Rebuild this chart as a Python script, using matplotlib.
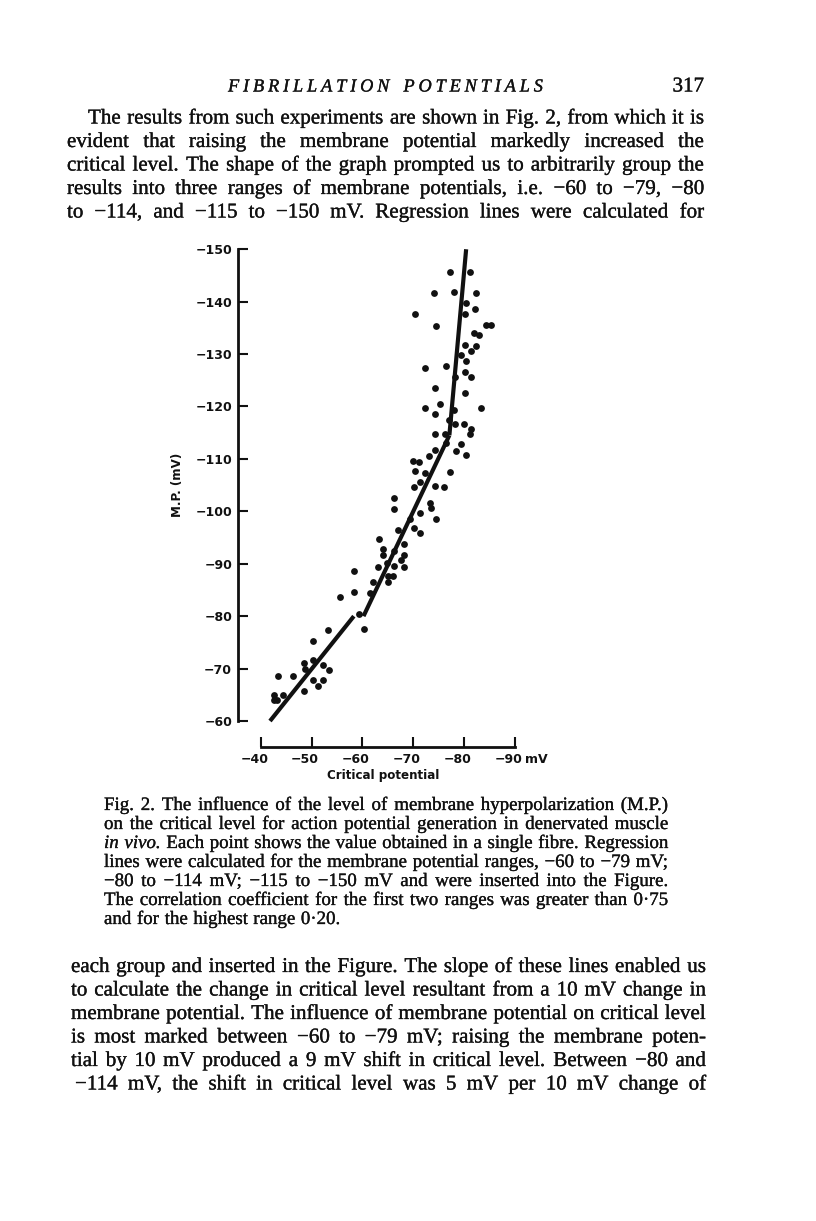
import matplotlib
matplotlib.use("Agg")
import matplotlib.pyplot as plt
import matplotlib.patheffects as pe
from matplotlib.transforms import ScaledTranslation

W, H = 816, 1221
INK = "#111111"

# ---------------- data ----------------
crit = [-77.2, -81.2, -74.1, -78.1, -82.3, -80.4, -82.1, -80.2, -70.3, -74.4, -84.3, -85.2,
        -82.0, -83.0, -80.1, -82.3, -81.3, -79.3, -80.4, -72.3, -76.4, -80.2, -78.3, -81.3,
        -74.3, -80.2, -72.3, -75.3, -83.3, -78.1, -74.3, -77.1, -78.2, -80.0, -81.3, -81.2,
        -74.3, -76.3, -76.4, -79.3, -74.3, -78.4, -73.1, -80.4, -70.0, -71.2, -70.3, -72.4,
        -77.2, -71.3, -70.2, -74.3, -76.1,
        -66.3, -66.3, -73.2, -73.4, -71.3, -69.4, -74.4, -70.1, -71.3, -66.9, -63.3, -68.2,
        -64.1, -66.3, -64.1, -68.2, -67.6, -63.1, -64.8, -66.2, -68.2, -58.3, -65.0, -66.1,
        -62.1, -65.0, -58.3, -61.5, -55.6,
        -59.4, -60.3, -53.3, -50.3, -48.4, -50.3, -52.3, -53.5, -48.6, -43.3, -46.4, -50.3,
        -52.3, -51.3, -48.4, -42.5, -44.4, -42.5, -43.1]
mp = [-145.6, -145.7, -141.7, -141.8, -141.6, -139.8, -138.6, -137.7, -137.6, -135.4, -135.6, -135.6,
      -134.0, -133.6, -131.7, -131.6, -130.6, -129.8, -128.7, -127.4, -127.8, -126.6, -125.6, -125.6,
      -123.6, -122.6, -119.7, -120.4, -119.7, -119.4, -118.5, -117.5, -116.6, -116.6, -115.8, -114.7,
      -114.7, -114.7, -113.0, -112.9, -111.7, -111.6, -110.6, -110.7, -109.6, -109.4, -107.6, -107.4,
      -107.5, -105.6, -104.7, -104.9, -104.7,
      -102.6, -100.4, -101.6, -100.6, -99.6, -98.5, -98.5, -96.9, -95.8, -96.4, -94.7, -93.8,
      -92.8, -92.5, -91.7, -91.7, -90.8, -89.4, -90.1, -89.6, -89.4, -88.7, -87.7, -87.7,
      -86.6, -86.6, -84.6, -84.4, -83.7,
      -80.5, -77.5, -77.3, -75.2, -71.1, -71.6, -70.7, -69.7, -70.0, -68.6, -68.6, -67.8,
      -67.8, -66.7, -65.7, -65.0, -65.0, -64.0, -64.0]

# regression line segments (critical potential, membrane potential)
seg_crit = [(-41.8, -58.3), (-60.2, -77.1), (-77.1, -80.4)]
seg_mp = [(-60, -80), (-80, -114.5), (-114.5, -150)]

x_ticks = [-40, -50, -60, -70, -80, -90]
x_ticklabels = ["\u221240", "\u221250", "\u221260", "\u221270", "\u221280", "\u221290"]
y_ticks = [-60, -70, -80, -90, -100, -110, -120, -130, -140, -150]
y_ticklabels = ["\u221260", "\u221270", "\u221280", "\u221290", "\u2212100", "\u2212110",
                "\u2212120", "\u2212130", "\u2212140", "\u2212150"]
x_label = "Critical potential"
y_label = "M.P. (mV)"
x_unit = "mV"

header = "FIBRILLATION POTENTIALS"
page_no = "317"
para_top = [
    "The results from such experiments are shown in Fig. 2, from which it is",
    "evident that raising the membrane potential markedly increased the",
    "critical level. The shape of the graph prompted us to arbitrarily group the",
    "results into three ranges of membrane potentials, i.e. \u221260 to \u221279, \u221280",
    "to \u2212114, and \u2212115 to \u2212150 mV. Regression lines were calculated for",
]
caption = [
    "Fig. 2. The influence of the level of membrane hyperpolarization (M.P.)",
    "on the critical level for action potential generation in denervated muscle",
    "_in_ _vivo._ Each point shows the value obtained in a single fibre. Regression",
    "lines were calculated for the membrane potential ranges, \u221260 to \u221279 mV;",
    "\u221280 to \u2212114 mV; \u2212115 to \u2212150 mV and were inserted into the Figure.",
    "The correlation coefficient for the first two ranges was greater than 0\u00b775",
    "and for the highest range 0\u00b720.",
]
para_bottom = [
    "each group and inserted in the Figure. The slope of these lines enabled us",
    "to calculate the change in critical level resultant from a 10 mV change in",
    "membrane potential. The influence of membrane potential on critical level",
    "is most marked between \u221260 to \u221279 mV; raising the membrane poten-",
    "tial by 10 mV produced a 9 mV shift in critical level. Between \u221280 and",
    "\u2212114 mV, the shift in critical level was 5 mV per 10 mV change of",
]

# ---------------- figure ----------------
fig = plt.figure(figsize=(W / 100, H / 100), dpi=100)
fig.patch.set_facecolor("white")
renderer = fig.canvas.get_renderer()

SERIF = "Liberation Serif"
SANS = "DejaVu Sans"
THICK = [pe.withStroke(linewidth=0.22, foreground=INK)]


def split_words(text):
    out = []
    for w in text.split(" "):
        style = "normal"
        if w.startswith("_") and w.endswith("_") and len(w) > 2:
            w, style = w[1:-1], "italic"
        out.append((w, style))
    return out


def word_widths(text, size):
    ws = []
    for w, st in split_words(text):
        t = fig.text(0, 0, w, fontsize=size, family=SERIF, style=st)
        ws.append(t.get_window_extent(renderer).width)
        t.remove()
    return ws


def fit_size(text, x0, x1, space_em=0.3, s0=12.0):
    ws = word_widths(text, s0)
    n = len(ws)
    return (x1 - x0) / (sum(ws) / s0 + (n - 1) * space_em * 100 / 72)


def place_line(text, x0, x1, ybase, size, justify=True):
    arts = []
    for w, st in split_words(text):
        t = fig.text(x0 / W, 1 - ybase / H, w, fontsize=size, family=SERIF, style=st,
                     va="baseline", ha="left", color=INK, path_effects=THICK)
        arts.append(t)
    widths = [a.get_window_extent(renderer).width for a in arts]
    if justify and len(arts) > 1:
        gap = (x1 - x0 - sum(widths)) / (len(arts) - 1)
    else:
        gap = size * 100 / 72 * 0.3
    x = x0
    for a, wd in zip(arts, widths):
        a.set_x(x / W)
        x += wd + gap


def place_tracked(text, x0, x1, ybase, size, style="italic"):
    arts, widths = [], []
    for ch in text:
        if ch == " ":
            arts.append(None)
            widths.append(size * 100 / 72 * 0.35)
            continue
        t = fig.text(x0 / W, 1 - ybase / H, ch, fontsize=size, family=SERIF, style=style,
                     va="baseline", ha="left", color=INK, path_effects=THICK)
        arts.append(t)
        widths.append(t.get_window_extent(renderer).width)
    gap = (x1 - x0 - sum(widths)) / (len(arts) - 1)
    x = x0
    for a, wd in zip(arts, widths):
        if a is not None:
            a.set_x(x / W)
        x += wd + gap


# font sizes chosen so that the tightest lines have normal word spacing
body_size = min(fit_size(para_top[0], 88, 704), fit_size(para_bottom[0], 71, 706),
                fit_size(para_top[2], 67, 704), fit_size(para_bottom[2], 71, 706))
cap_size = min(fit_size(caption[0], 104, 668), fit_size(caption[2], 104, 668),
               fit_size(caption[5], 104, 668))

# header
place_tracked(header, 228, 543, 91.5, 13.2)
fig.text(704 / W, 1 - 91.5 / H, page_no, fontsize=body_size, family=SERIF, ha="right",
         va="baseline", color=INK, path_effects=THICK)

# top paragraph
top_base = [123.5, 147, 170.5, 194, 217.5]
for i, (line, yb) in enumerate(zip(para_top, top_base)):
    place_line(line, 88 if i == 0 else 67, 704, yb, body_size)

# caption
cap_base = [810, 829, 848, 867, 886, 905, 924]
for i, (line, yb) in enumerate(zip(caption, cap_base)):
    place_line(line, 104, 668, yb, cap_size, justify=(i < len(caption) - 1))

# bottom paragraph
bot_base = [972, 995.5, 1019, 1042.5, 1066, 1089.5]
for i, (line, yb) in enumerate(zip(para_bottom, bot_base)):
    place_line(line, 71 if i < 5 else 75, 706, yb, body_size)

# ---------------- chart ----------------
ax_left, ax_right, ax_top, ax_bottom = 238, 520, 244, 746.7
ax = fig.add_axes([ax_left / W, 1 - ax_bottom / H, (ax_right - ax_left) / W, (ax_bottom - ax_top) / H])
ax.set_xlim(-35.5, -91)
ax.set_ylim(-55.1, -151)
ax.patch.set_alpha(0)

for sc, sm in zip(seg_crit, seg_mp):
    ax.plot(sc, sm, color=INK, lw=3.0, solid_capstyle="butt", clip_on=False, zorder=3)
ax.plot(crit, mp, "o", color=INK, markersize=4.9, markeredgewidth=0, clip_on=False, zorder=4)

for s in ("top", "right"):
    ax.spines[s].set_visible(False)
ax.spines["left"].set_bounds(-60, -150)
ax.spines["bottom"].set_bounds(-40, -90)
for s in ("left", "bottom"):
    ax.spines[s].set_linewidth(2.0)
    ax.spines[s].set_color(INK)
    ax.spines[s].set_capstyle("projecting")

ax.set_xticks(x_ticks)
ax.set_xticklabels(x_ticklabels)
ax.set_yticks(y_ticks)
ax.set_yticklabels(y_ticklabels)
ax.tick_params(direction="in", length=7.2, width=1.5, color=INK, labelcolor=INK)
ax.tick_params(axis="y", pad=4.2)
ax.tick_params(axis="x", pad=4.5)
for lab in ax.get_xticklabels() + ax.get_yticklabels():
    lab.set_fontfamily(SANS)
    lab.set_fontweight("bold")
    lab.set_fontsize(9)
for lab in ax.get_xticklabels():
    lab.set_transform(lab.get_transform() + ScaledTranslation(-0.065, 0, fig.dpi_scale_trans))

unit = ax.text(-90, 0, x_unit, fontsize=9, fontweight="bold", family=SANS, color=INK,
               va="top", ha="left")
unit.set_transform(ax.get_xaxis_transform() +
                   ScaledTranslation(0.10, -(758.3 - 746.7 - 5.5) / 100, fig.dpi_scale_trans))

fig.text(383 / W, 1 - 775.5 / H, x_label, fontsize=8.6, fontweight="bold", family=SANS,
         ha="center", va="center", color=INK)
fig.text(178 / W, 1 - 485 / H, y_label, fontsize=8.6, fontweight="bold", family=SANS,
         ha="center", va="center", rotation=90, color=INK)

fig.savefig("out.png", dpi=100, facecolor="white")
